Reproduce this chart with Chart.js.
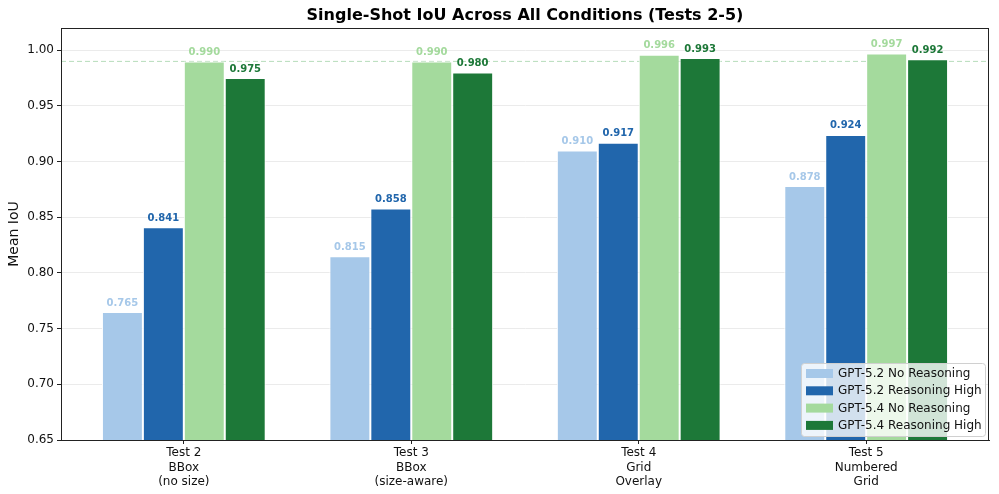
<!DOCTYPE html>
<html>
<head>
<meta charset="utf-8">
<script src="https://cdn.jsdelivr.net/npm/chart.js@4/dist/chart.umd.min.js"></script>
<style>
html,body{margin:0;padding:0;background:#fff;}
#wrap{width:999px;height:494px;position:relative;}
</style>
</head>
<body>
<div id="wrap"><canvas id="c" width="999" height="494"></canvas></div>
<script>
const categories = [["Test 2","BBox","(no size)"],["Test 3","BBox","(size-aware)"],["Test 4","Grid","Overlay"],["Test 5","Numbered","Grid"]];
const seriesNames = ["GPT-5.2 No Reasoning","GPT-5.2 Reasoning High","GPT-5.4 No Reasoning","GPT-5.4 Reasoning High"];
const gpt52NoReasoning = [0.765, 0.815, 0.910, 0.878];
const gpt52ReasoningHigh = [0.841, 0.858, 0.917, 0.924];
const gpt54NoReasoning = [0.990, 0.990, 0.996, 0.997];
const gpt54ReasoningHigh = [0.975, 0.980, 0.993, 0.992];
const yTicks = [0.65, 0.70, 0.75, 0.80, 0.85, 0.90, 0.95, 1.00];
const referenceLine = 0.99;

const colors = ["#a6c8e9", "#2166ac", "#a4da9d", "#1d7838"];
const labelColors = ["#a6c8e9", "#2166ac", "#a4da9d", "#1d7838"];
const seriesValues = [gpt52NoReasoning, gpt52ReasoningHigh, gpt54NoReasoning, gpt54ReasoningHigh];
const FONT = "'DejaVu Sans', sans-serif";

const datasets = seriesValues.map((vals, i) => ({
  label: seriesNames[i],
  data: vals.map((v, j) => ({x: j, y: v})),
  backgroundColor: colors[i],
  borderColor: '#ffffff',
  borderWidth: 1,
  borderSkipped: false,
  categoryPercentage: 0.72,
  barPercentage: 1.0
}));

const decor = {
  id: 'decor',
  beforeDatasetsDraw(chart) {
    const {ctx, chartArea: a, scales: {y}} = chart;
    const py = y.getPixelForValue(referenceLine);
    ctx.save();
    ctx.strokeStyle = 'rgba(110,185,120,0.5)';
    ctx.lineWidth = 1;
    ctx.setLineDash([5, 3]);
    ctx.beginPath();
    ctx.moveTo(a.left, py);
    ctx.lineTo(a.right, py);
    ctx.stroke();
    ctx.restore();
  },
  afterDatasetsDraw(chart) {
    const {ctx} = chart;
    ctx.save();
    ctx.font = "bold 10px " + FONT;
    ctx.textAlign = 'center';
    ctx.textBaseline = 'bottom';
    chart.data.datasets.forEach((ds, i) => {
      const meta = chart.getDatasetMeta(i);
      meta.data.forEach((bar, j) => {
        ctx.fillStyle = labelColors[i];
        ctx.fillText(seriesValues[i][j].toFixed(3), bar.x, bar.y - 4);
      });
    });
    ctx.restore();
  },
  afterDraw(chart) {
    const {ctx, chartArea: a} = chart;
    ctx.save();
    ctx.strokeStyle = '#222';
    ctx.lineWidth = 1;
    ctx.strokeRect(a.left + 0.5, a.top + 0.5, a.right - a.left - 1, a.bottom - a.top);
    ctx.fillStyle = '#000';
    ctx.font = "bold 16px " + FONT;
    ctx.textAlign = 'center';
    ctx.textBaseline = 'middle';
    ctx.fillText("Single-Shot IoU Across All Conditions (Tests 2-5)", (a.left + a.right) / 2, 16);
    const bw = 184, bh = 73;
    const bx = a.right - 4 - bw, by = a.bottom - 4 - bh;
    ctx.fillStyle = 'rgba(255,255,255,0.8)';
    ctx.strokeStyle = '#d0d0d0';
    ctx.lineWidth = 1;
    ctx.beginPath();
    if (ctx.roundRect) ctx.roundRect(bx + 0.5, by + 0.5, bw, bh, 3); else ctx.rect(bx + 0.5, by + 0.5, bw, bh);
    ctx.fill();
    ctx.stroke();
    ctx.font = "12px " + FONT;
    ctx.textAlign = 'left';
    ctx.textBaseline = 'middle';
    seriesNames.forEach((n, i) => {
      const cy = by + 10 + i * 17.3;
      ctx.fillStyle = colors[i];
      ctx.fillRect(bx + 5, cy - 4, 27, 9);
      ctx.fillStyle = '#111';
      ctx.fillText(n, bx + 37, cy + 1);
    });
    ctx.restore();
  }
};

new Chart(document.getElementById('c'), {
  type: 'bar',
  data: {datasets},
  options: {
    responsive: false,
    animation: false,
    devicePixelRatio: 1,
    layout: {padding: {top: 28, right: 10, left: 6, bottom: 0}},
    plugins: {legend: {display: false}, title: {display: false}, tooltip: {enabled: false}},
    scales: {
      x: {
        type: 'linear',
        min: -0.54,
        max: 3.54,
        offset: false,
        afterFit(s) { s.height = 54; },
        afterBuildTicks(s) { s.ticks = [0,1,2,3].map(v => ({value: v})); },
        ticks: {
          callback: (v) => categories[v],
          color: '#111',
          font: {family: FONT, size: 12},
          padding: 2,
          maxRotation: 0,
          autoSkip: false
        },
        grid: {offset: false, drawOnChartArea: false, color: '#222', tickColor: '#222', tickLength: 4},
        border: {display: true, color: '#222'}
      },
      y: {
        min: 0.65,
        max: 1.02,
        afterFit(s) { s.width = 55; },
        afterBuildTicks(s) { s.ticks = yTicks.map(v => ({value: v})); },
        ticks: {
          callback: (v) => v.toFixed(2),
          color: '#111',
          font: {family: FONT, size: 12},
          padding: 3
        },
        title: {display: true, text: 'Mean IoU', color: '#111', font: {family: FONT, size: 14}, padding: {top: 0, bottom: 4}},
        grid: {offset: false, color: '#ebebeb', tickColor: '#222', tickLength: 4},
        border: {display: true, color: '#222'}
      }
    }
  },
  plugins: [decor]
});
</script>
</body>
</html>
